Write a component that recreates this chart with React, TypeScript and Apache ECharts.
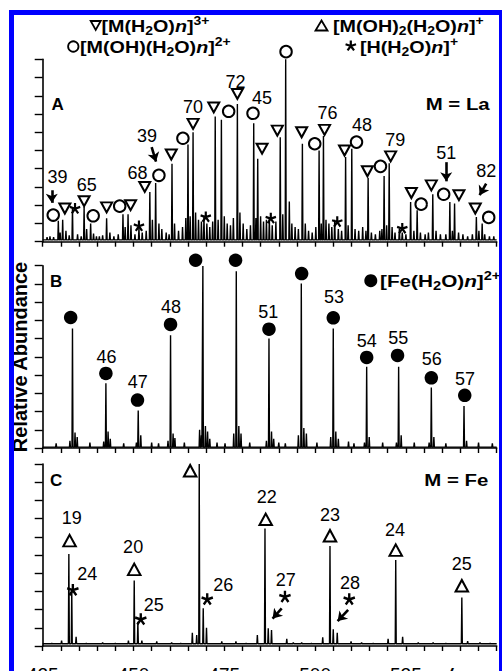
import React, { useEffect, useRef } from "react";
import * as echarts from "echarts";

const FONT = '"Liberation Sans", Arial, Helvetica, sans-serif';

// ---- axes ----
const MZ_MIN = 425;
const MZ_MAX = 550;
const MZ_STEP = 5;
const MZ_LABELS = [425, 450, 475, 500, 525];
const Y_MAX = 10;

// ---- Panel A (M = La) ----
const A_PEAKS: [number, number][] = [
  [429.3, 1.15], [430.5, 1.2], [433.2, 1.9], [436.4, 1.9], [438.2, 1.0], [442.6, 1.28],
  [447.1, 1.5], [448.5, 1.5], [451.5, 0.75], [454.5, 2.73], [456.1, 3.22], [460.6, 4.28],
  [465.0, 5.33], [466.4, 6.0], [472.5, 6.86], [474.2, 6.68], [478.6, 7.55], [483.1, 6.5],
  [484.2, 4.55], [490.4, 5.73], [491.9, 10.0], [492.9, 2.2], [496.5, 5.37], [501.1, 5.0],
  [502.3, 5.8], [508.4, 4.64], [510.1, 5.1], [514.6, 3.5], [519.0, 3.6], [520.4, 4.3],
  [526.3, 2.18], [528.1, 1.73], [532.4, 2.6], [537.1, 2.18], [538.4, 2.1], [544.4, 1.36],
  [546.0, 1.0],
];
const A_NOISE: [number, number][] = [
  [426.2, 0.25], [427.0, 0.3], [428.0, 0.25], [429.8, 0.5], [431.4, 0.6], [432.3, 0.35],
  [434.6, 0.4], [435.6, 0.3], [437.1, 0.7], [439.0, 0.45], [439.8, 0.3], [440.6, 0.3],
  [441.5, 0.35], [443.5, 0.5], [444.6, 0.3], [445.8, 0.4], [447.7, 0.8], [449.3, 0.9],
  [450.4, 0.4], [452.4, 0.5], [453.5, 0.6], [455.2, 1.2], [457.0, 1.0], [457.8, 0.7],
  [459.0, 0.5], [459.8, 0.4], [461.3, 1.0], [462.4, 0.6], [463.5, 0.8], [464.4, 1.3],
  [465.6, 1.4], [467.1, 1.6], [467.9, 1.2], [468.7, 1.1], [469.4, 1.4], [470.2, 1.0],
  [471.0, 0.8], [471.8, 1.1], [473.3, 1.2], [475.0, 1.4], [475.8, 1.0], [476.7, 0.9],
  [477.5, 1.3], [479.3, 1.6], [480.2, 1.0], [481.2, 0.7], [482.2, 0.9], [483.7, 1.3],
  [485.0, 1.4], [485.8, 1.1], [486.6, 1.2], [487.4, 1.3], [488.2, 0.9], [489.2, 1.1],
  [491.1, 1.5], [493.6, 1.0], [494.5, 0.8], [495.4, 0.7], [497.3, 1.0], [498.2, 0.6],
  [499.2, 0.5], [500.2, 0.8], [501.7, 1.0], [503.0, 1.2], [503.8, 1.0], [504.6, 0.8],
  [505.4, 1.2], [506.4, 0.7], [507.3, 0.6], [509.1, 0.9], [511.0, 0.7], [512.0, 0.6],
  [513.1, 0.8], [514.0, 0.6], [515.5, 0.5], [516.6, 0.4], [517.8, 0.6], [518.4, 0.7],
  [519.7, 0.9], [521.2, 0.8], [522.0, 0.5], [523.2, 0.7], [524.0, 0.5], [525.0, 0.4],
  [527.2, 0.6], [529.0, 0.5], [530.3, 0.4], [531.2, 0.5], [533.3, 0.6], [534.5, 0.4],
  [536.0, 0.4], [537.8, 0.6], [539.5, 0.5], [540.7, 0.4], [542.0, 0.3], [543.3, 0.4],
  [545.1, 0.6], [546.7, 0.4], [548.0, 0.3], [549.2, 0.3],
];
const A_TRI: [number, number][] = [
  [431.1, 1.82], [436.4, 2.22], [442.6, 1.88], [449.2, 2.0], [453.1, 3.0], [460.4, 4.78],
  [466.4, 6.46], [472.1, 7.36], [478.6, 8.1], [485.4, 5.1], [489.6, 6.09], [496.3, 6.0],
  [502.6, 6.13], [508.1, 5.0], [514.4, 3.86], [520.8, 4.68], [526.5, 2.67], [532.0, 3.09],
  [539.6, 2.55], [544.1, 1.82],
];
const A_CIRC: [number, number][] = [
  [427.9, 1.46], [438.9, 1.42], [446.2, 1.95], [457.0, 3.64], [463.6, 5.67], [476.2, 7.15],
  [482.9, 7.04], [492.0, 10.42], [499.9, 5.37], [511.4, 5.46], [518.0, 4.13], [529.2, 2.06],
  [535.4, 2.6], [547.8, 1.33],
];
const A_STAR: [number, number][] = [
  [433.9, 1.82], [451.5, 0.86], [469.9, 1.36], [487.8, 1.28], [506.1, 1.09], [524.0, 0.73],
];
const A_LABELS: [number, number, string][] = [
  [429.1, 3.53, "39"], [437.1, 3.13, "65"], [451.1, 3.76, "68"], [453.7, 5.82, "39"],
  [466.4, 7.4, "70"], [478.1, 8.78, "72"], [485.4, 7.87, "45"], [503.4, 7.06, "76"],
  [512.9, 6.39, "48"], [522.1, 5.55, "79"], [536.1, 4.88, "51"], [547.1, 3.87, "82"],
];
const A_ARROWS: [number, number, number, number][] = [
  [427.5, 2.82, 427.5, 2.13], [455.0, 5.18, 456.2, 4.39], [536.1, 4.36, 536.1, 3.31],
  [547.1, 3.19, 545.3, 2.55],
];

// ---- Panel B ([Fe(H2O)n]2+) ----
const B_PEAKS: [number, number][] = [
  [433.2, 6.56], [442.4, 3.55], [451.3, 2.05], [460.2, 6.19], [469.1, 9.99], [478.3, 9.7],
  [487.3, 6.01], [496.2, 9.02], [505.0, 6.56], [514.2, 4.45], [523.0, 4.45], [532.0, 3.32],
  [541.0, 2.3],
];
const B_NOISE: [number, number][] = [
  [428.7, 0.25], [432.5, 0.4], [433.9, 0.85], [434.5, 0.6], [438.0, 0.3], [441.8, 0.35],
  [443.0, 0.9], [443.6, 0.5], [447.3, 0.25], [450.8, 0.3], [452.0, 0.7], [455.0, 0.3],
  [456.9, 0.25], [459.5, 0.4], [460.9, 0.8], [461.4, 0.55], [464.0, 0.3], [468.2, 1.0],
  [468.7, 0.7], [469.8, 1.2], [470.4, 0.9], [471.0, 0.5], [473.0, 0.3], [475.2, 0.25],
  [477.6, 0.8], [479.0, 1.2], [479.6, 0.8], [482.0, 0.3], [486.6, 0.4], [488.0, 0.9],
  [488.6, 0.5], [490.0, 0.3], [491.8, 0.25], [495.4, 0.7], [496.9, 1.1], [497.6, 0.8],
  [500.5, 0.3], [504.3, 0.6], [505.7, 0.9], [506.4, 0.5], [509.2, 0.35], [510.7, 0.25],
  [513.6, 0.3], [514.9, 0.6], [518.6, 0.3], [522.4, 0.3], [523.7, 0.7], [527.3, 0.3],
  [531.4, 0.3], [532.7, 0.6], [536.0, 0.25], [541.7, 0.4], [545.0, 0.3], [548.8, 0.25],
];
const B_CIRC: [number, number][] = [
  [432.7, 7.16], [442.4, 4.09], [451.1, 2.63], [460.2, 6.78], [467.1, 10.3], [478.1, 10.3],
  [487.3, 6.52], [496.3, 9.57], [505.0, 7.14], [514.2, 4.97], [522.7, 5.08], [532.0, 3.85],
  [541.2, 2.89],
];
const B_LABELS: [number, number, string][] = [
  [442.6, 5.0, "46"], [451.2, 3.6, "47"], [460.3, 7.71, "48"], [487.1, 7.47, "51"],
  [505.2, 8.26, "53"], [514.2, 5.88, "54"], [522.9, 6.01, "55"], [532.1, 4.86, "56"],
  [541.3, 3.76, "57"],
];

// ---- Panel C (M = Fe) ----
const C_PEAKS: [number, number][] = [
  [432.2, 5.05], [433.0, 3.07], [434.2, 0.5], [450.2, 3.6], [451.2, 1.33], [452.3, 0.3],
  [466.2, 0.73], [467.4, 0.6], [468.1, 10.0], [469.2, 2.07], [470.1, 1.0], [484.1, 0.6],
  [486.2, 6.45], [487.1, 0.97], [488.0, 0.88], [502.1, 0.48], [504.1, 5.5], [505.0, 0.92],
  [506.1, 0.73], [520.1, 0.4], [522.2, 4.72], [524.1, 0.5], [540.4, 2.67], [542.0, 0.27],
];
const C_NOISE: [number, number][] = [
  [427.5, 0.15], [430.2, 0.3], [437.0, 0.15], [441.5, 0.2], [445.0, 0.15], [448.6, 0.3],
  [456.4, 0.25], [460.5, 0.2], [463.0, 0.15], [474.3, 0.25], [478.2, 0.25], [481.0, 0.15],
  [492.2, 0.4], [494.0, 0.2], [496.3, 0.2], [499.0, 0.15], [509.9, 0.25], [512.8, 0.2],
  [516.0, 0.15], [528.4, 0.2], [532.5, 0.2], [536.0, 0.15], [545.4, 0.2], [548.2, 0.15],
];
const C_TRI: [number, number][] = [
  [432.4, 5.79], [450.2, 4.21], [465.6, 9.63], [486.4, 6.96], [504.1, 6.06], [522.2, 5.27],
  [540.4, 3.31],
];
const C_STAR: [number, number][] = [
  [433.3, 3.08], [452.0, 1.47], [470.3, 2.57], [491.7, 2.71], [509.4, 2.57],
];
const C_LABELS: [number, number, string][] = [
  [433.0, 7.01, "19"], [449.9, 5.42, "20"], [486.7, 8.17, "22"], [504.1, 7.2, "23"],
  [522.0, 6.37, "24"], [540.4, 4.51, "25"], [437.3, 3.96, "24"], [455.6, 2.25, "25"],
  [474.7, 3.35, "26"], [491.9, 3.63, "27"], [509.6, 3.44, "28"],
];
const C_ARROWS: [number, number, number, number][] = [
  [490.8, 2.07, 488.3, 1.51], [509.1, 1.98, 506.2, 1.37],
];

// ---- shapes ----
function starD(): string {
  const hw = 0.2;
  let d = "";
  for (let k = 0; k < 5; k++) {
    const a = ((-90 + 72 * k) * Math.PI) / 180;
    const dx = Math.cos(a);
    const dy = Math.sin(a);
    const px = -dy * hw;
    const py = dx * hw;
    const pts = [
      [px, py],
      [px + dx, py + dy],
      [-px + dx, -py + dy],
      [-px, -py],
    ];
    d += "M" + pts.map((p) => (p[0] * 10).toFixed(2) + "," + (p[1] * 10).toFixed(2)).join("L") + "Z";
  }
  return d;
}
const STAR_D = starD();
const STAR_SYMBOL = "path://" + STAR_D;
const TRI_DOWN = "path://M0,0L12,0L6,10.4Z";
const TRI_UP = "path://M6,0L12,10.4L0,10.4Z";

echarts.graphic.registerShape("asterisk", echarts.graphic.extendPath(STAR_D, {}) as any);

function spectrum(peaks: [number, number][], base: number): number[][] {
  const sorted = [...peaks].sort((a, b) => a[0] - b[0]);
  const pts: number[][] = [[MZ_MIN, base]];
  for (const [m, h] of sorted) {
    pts.push([m - 0.13, base], [m, h], [m + 0.13, base]);
  }
  pts.push([MZ_MAX, base]);
  return pts;
}

const RICH = {
  b: { fontSize: 17, fontWeight: "bold", fontFamily: FONT, fill: "#000", lineHeight: 22 },
  i: { fontSize: 17, fontWeight: "bold", fontStyle: "italic", fontFamily: FONT, fill: "#000", lineHeight: 22 },
  s: { fontSize: 12, fontWeight: "bold", fontFamily: FONT, fill: "#000", verticalAlign: "bottom", lineHeight: 12 },
  p: { fontSize: 12, fontWeight: "bold", fontFamily: FONT, fill: "#000", verticalAlign: "top", lineHeight: 12 },
};

const STRETCH = 1.16;

function richText(x: number, y: number, text: string, sx = STRETCH) {
  return {
    type: "text",
    x,
    y,
    scaleX: sx,
    z: 20,
    style: {
      text,
      rich: RICH,
      fill: "#000",
      fontSize: 17,
      fontFamily: FONT,
      fontWeight: "bold",
      align: "left",
      textAlign: "left",
      verticalAlign: "middle",
      textVerticalAlign: "middle",
    },
  };
}

function plainText(x: number, y: number, text: string, align: string, size = 17, extra: any = {}) {
  return {
    type: "text",
    x,
    y,
    z: 20,
    ...extra,
    style: {
      text,
      fill: "#000",
      fontSize: size,
      fontFamily: FONT,
      fontWeight: "bold",
      align,
      textAlign: align,
      verticalAlign: "middle",
      textVerticalAlign: "middle",
    },
  };
}

const GRIDS = [
  { left: 42.7, width: 454, top: 59.3, height: 182.4, containLabel: false, outerBoundsMode: "none" },
  { left: 42.7, width: 454, top: 265.7, height: 182.3, containLabel: false, outerBoundsMode: "none" },
  { left: 42.7, width: 454, top: 464, height: 182, containLabel: false, outerBoundsMode: "none" },
];

function buildOption() {
  const xAxis = GRIDS.map((_, i) => ({
    type: "value",
    gridIndex: i,
    min: MZ_MIN,
    max: MZ_MAX,
    interval: MZ_STEP,
    axisLine: { show: true, lineStyle: { color: "#000", width: 1.6 } },
    axisTick: { show: true, inside: false, length: 5, lineStyle: { color: "#000", width: 1.4 } },
    splitLine: { show: false },
    axisLabel:
      i === 2
        ? {
            show: true,
            color: "#000",
            fontSize: 19,
            fontFamily: FONT,
            margin: 19,
            verticalAlign: "top",
            formatter: (v: number) => (MZ_LABELS.includes(v) ? String(v) : ""),
          }
        : { show: false },
  }));
  const yAxis = GRIDS.map((_, i) => ({
    type: "value",
    gridIndex: i,
    min: 0,
    max: Y_MAX,
    interval: 1,
    axisLine: { show: true, lineStyle: { color: "#000", width: 1.6 } },
    axisTick: { show: true, inside: false, length: 8, lineStyle: { color: "#000", width: 1.4 } },
    splitLine: { show: false },
    axisLabel: { show: false },
  }));

  const series: any[] = [];
  const lineSeries = (i: number, data: number[][]) => ({
    type: "line",
    xAxisIndex: i,
    yAxisIndex: i,
    data,
    showSymbol: false,
    symbol: "none",
    lineStyle: { color: "#000", width: 1.4 },
    z: 2,
    silent: true,
  });
  const markerSeries = (i: number, data: [number, number][], symbol: string, size: any, filled: boolean) => ({
    type: "scatter",
    xAxisIndex: i,
    yAxisIndex: i,
    data,
    symbol,
    symbolSize: size,
    clip: false,
    itemStyle: filled
      ? { color: "#000", borderWidth: 0, opacity: 1 }
      : { color: "#fff", borderColor: "#000", borderWidth: 2, opacity: 1 },
    z: 5,
    silent: true,
  });
  const labelSeries = (i: number, data: [number, number, string][]) => ({
    type: "scatter",
    xAxisIndex: i,
    yAxisIndex: i,
    data: data.map(([m, y, t]) => ({ name: t, value: [m, y] })),
    symbol: "circle",
    symbolSize: 1,
    clip: false,
    itemStyle: { color: "rgba(0,0,0,0)" },
    label: {
      show: true,
      position: "inside",
      formatter: "{b}",
      color: "#000",
      fontSize: 18,
      fontFamily: FONT,
      textBorderWidth: 0,
      textBorderColor: "transparent",
      opacity: 1,
    },
    z: 6,
    silent: true,
  });
  const arrowSeries = (i: number, data: [number, number, number, number][]) => ({
    type: "lines",
    coordinateSystem: "cartesian2d",
    xAxisIndex: i,
    yAxisIndex: i,
    symbol: ["none", "arrow"],
    symbolSize: 9,
    lineStyle: { color: "#000", width: 2.6, opacity: 1, curveness: 0 },
    data: data.map(([a, b, c, d]) => ({ coords: [[a, b], [c, d]] })),
    z: 6,
    silent: true,
  });

  // Panel A
  series.push(lineSeries(0, spectrum([...A_PEAKS, ...A_NOISE], 0.1)));
  series.push(markerSeries(0, A_TRI, TRI_DOWN, [11, 10], false));
  series.push(markerSeries(0, A_CIRC, "circle", 11.5, false));
  series.push(markerSeries(0, A_STAR, STAR_SYMBOL, 11, true));
  series.push(labelSeries(0, A_LABELS));
  series.push(arrowSeries(0, A_ARROWS));
  // Panel B
  series.push(lineSeries(1, spectrum([...B_PEAKS, ...B_NOISE], 0.05)));
  series.push(markerSeries(1, B_CIRC, "circle", 13.5, true));
  series.push(labelSeries(1, B_LABELS));
  // Panel C
  series.push(lineSeries(2, spectrum([...C_PEAKS, ...C_NOISE], 0.12)));
  series.push(markerSeries(2, C_TRI, TRI_UP, [12.5, 11.5], false));
  series.push(markerSeries(2, C_STAR, STAR_SYMBOL, 12, true));
  series.push(labelSeries(2, C_LABELS));
  series.push(arrowSeries(2, C_ARROWS));

  const graphic: any[] = [
    // legend symbols
    {
      type: "polygon",
      z: 20,
      shape: { points: [[90.7, 21], [100.7, 21], [95.7, 30]] },
      style: { fill: "#fff", stroke: "#000", lineWidth: 1.8 },
    },
    {
      type: "circle",
      z: 20,
      shape: { cx: 73.3, cy: 46.5, r: 5.2 },
      style: { fill: "#fff", stroke: "#000", lineWidth: 1.8 },
    },
    {
      type: "polygon",
      z: 20,
      shape: { points: [[321.5, 20.5], [327.5, 30.5], [315.5, 30.5]] },
      style: { fill: "#fff", stroke: "#000", lineWidth: 1.8 },
    },
    { type: "asterisk", x: 350.8, y: 46, scaleX: 0.55, scaleY: 0.55, z: 20, style: { fill: "#000" } },
    {
      type: "circle",
      z: 20,
      shape: { cx: 370.8, cy: 280.7, r: 6.5 },
      style: { fill: "#000" },
    },
    richText(101.5, 26, "{b|[M(H}{s|2}{b|O)}{i|n}{b|]}{p|3+}"),
    richText(80, 46.5, "{b|[M(OH)(H}{s|2}{b|O)}{i|n}{b|]}{p|2+}"),
    richText(333, 26, "{b|[M(OH)}{s|2}{b|(H}{s|2}{b|O)}{i|n}{b|]}{p|+}"),
    richText(360, 46.5, "{b|[H(H}{s|2}{b|O)}{i|n}{b|]}{p|+}"),
    richText(380, 281, "{b|[Fe(H}{s|2}{b|O)}{i|n}{b|]}{p|2+}", 1.22),
    plainText(51.5, 104.5, "A", "left"),
    plainText(489.7, 104.5, "M = La", "right", 17, { scaleX: 1.2 }),
    plainText(50, 281, "B", "left"),
    plainText(50, 480, "C", "left"),
    plainText(488.3, 480, "M = Fe", "right", 17, { scaleX: 1.2 }),
    plainText(20, 357, "Relative Abundance", "center", 20, { rotation: Math.PI / 2 }),
    {
      type: "text",
      x: 446,
      y: 665,
      z: 20,
      style: {
        text: "m/z",
        fill: "#000",
        fontSize: 19,
        fontFamily: FONT,
        fontWeight: "bold",
        fontStyle: "italic",
        align: "center",
        textAlign: "center",
        verticalAlign: "top",
        textVerticalAlign: "top",
      },
    },
    // blue frame
    {
      type: "rect",
      z: 100,
      shape: { x: 11.5, y: 12.5, width: 490, height: 720 },
      style: { fill: "none", stroke: "#0000ff", lineWidth: 5 },
    },
  ];

  return {
    animation: false,
    backgroundColor: "#fff",
    grid: GRIDS,
    xAxis,
    yAxis,
    series,
    graphic: { elements: graphic },
  };
}

export default function App() {
  const ref = useRef<HTMLDivElement>(null);
  useEffect(() => {
    if (!ref.current) return;
    const chart = echarts.init(ref.current, undefined, { renderer: "svg" });
    chart.setOption(buildOption() as any);
    return () => chart.dispose();
  }, []);
  return (
    <div
      ref={ref}
      style={{ position: "fixed", left: 0, top: 0, width: 502, height: 671, background: "#fff" }}
    />
  );
}
